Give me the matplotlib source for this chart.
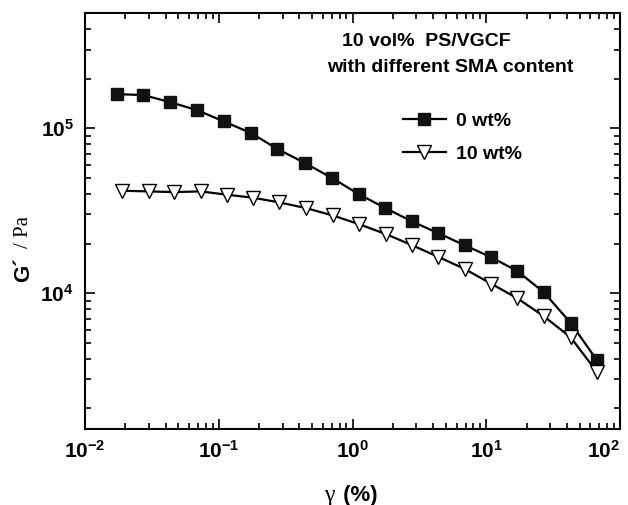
import math
import matplotlib
matplotlib.use("Agg")
import matplotlib.pyplot as plt
from matplotlib.ticker import LogLocator, FuncFormatter, NullFormatter

plt.rcParams['font.family'] = ['Liberation Sans', 'DejaVu Sans']
plt.rcParams['mathtext.fontset'] = 'custom'
plt.rcParams['mathtext.rm'] = 'Liberation Sans:bold'
plt.rcParams['mathtext.bf'] = 'Liberation Sans:bold'

# strain amplitude (%) and storage modulus (Pa)
strain_0 = [0.0174, 0.0273, 0.0432, 0.0685, 0.109, 0.174, 0.271, 0.441, 0.703, 1.11,
            1.76, 2.79, 4.38, 6.91, 10.9, 17.1, 27.0, 42.8, 67.0]
g_0 = [1.61e5, 1.59e5, 1.44e5, 1.29e5, 1.10e5, 9.36e4, 7.53e4, 6.15e4, 4.99e4, 3.99e4,
       3.28e4, 2.72e4, 2.31e4, 1.95e4, 1.65e4, 1.36e4, 1.01e4, 6.6e3, 3.93e3]

strain_10 = [0.0188, 0.0301, 0.0466, 0.0733, 0.116, 0.181, 0.284, 0.449, 0.711, 1.12,
             1.78, 2.80, 4.38, 6.91, 10.9, 17.1, 27.0, 42.8, 67.0]
g_10 = [4.18e4, 4.14e4, 4.10e4, 4.14e4, 3.95e4, 3.79e4, 3.55e4, 3.28e4, 2.96e4, 2.62e4,
        2.28e4, 1.95e4, 1.66e4, 1.40e4, 1.14e4, 9.3e3, 7.23e3, 5.39e3, 3.34e3]

labels = ["0 wt%", "10 wt%"]

fig = plt.figure(figsize=(6.28, 5.05), dpi=100)
ax = fig.add_axes([85/628, 1-429/505, 535/628, 416/505])

ax.plot(strain_0, g_0, color='black', lw=1.6, marker='s', ms=8.5,
        mfc='#111111', mec='#111111', label=labels[0])
ax.plot(strain_10, g_10, color='black', lw=1.6, marker='v', ms=9.5,
        mfc='white', mec='black', mew=1.0, label=labels[1])

ax.set_xscale('log')
ax.set_yscale('log')
ax.set_xlim(1e-2, 1e2)
ax.set_ylim(1.5e3, 5e5)

def pow_fmt(v, pos):
    e = int(round(math.log10(v)))
    return r"$\mathbf{10^{%d}}$" % e

for axis in (ax.xaxis, ax.yaxis):
    axis.set_major_locator(LogLocator(base=10, numticks=10))
    axis.set_minor_locator(LogLocator(base=10, subs=range(2, 10), numticks=10))
    axis.set_major_formatter(FuncFormatter(pow_fmt))
    axis.set_minor_formatter(NullFormatter())

ax.tick_params(which='both', direction='in', top=True, right=True, width=1.2,
               labelsize=15)
ax.tick_params(which='major', length=7, pad=8)
ax.tick_params(which='minor', length=4)
for s in ax.spines.values():
    s.set_linewidth(1.5)

# axis labels (mixed fonts like the original)
fig.text(334/628, 1-495/505, "\u03b3", family='Liberation Serif', fontsize=17,
         ha='right', va='center')
fig.text(337/628, 1-495/505, " (%)", fontsize=16, weight='bold', ha='left', va='center')
fig.text(24/628, 1-270/505, "G\u00b4", fontsize=16, weight='bold', rotation=90,
         ha='center', va='center')
fig.text(24/628, 1-232/505, "/ Pa", family='Liberation Serif', fontsize=15,
         rotation=90, ha='center', va='center')

fig.text(426/628, 1-41/505, "10 vol%  PS/VGCF", fontsize=14, weight='bold',
         ha='center', va='center')
fig.text(450/628, 1-67/505, "with different SMA content", fontsize=14, weight='bold',
         ha='center', va='center')

leg = ax.legend(loc='upper left', bbox_to_anchor=(403/628, 1-112/505),
                bbox_transform=fig.transFigure, frameon=False, fontsize=14,
                handlelength=2.2, handletextpad=0.5, labelspacing=0.8,
                borderpad=0, borderaxespad=0)
for t in leg.get_texts():
    t.set_fontweight('bold')

# keep the 10^2 label inside the figure, like the original
fig.canvas.draw()
for tick in ax.xaxis.get_major_ticks():
    if abs(tick.get_loc() - 1e2) < 1e-6:
        tick.label1.set_horizontalalignment('right')

fig.savefig("out.png", dpi=100)
